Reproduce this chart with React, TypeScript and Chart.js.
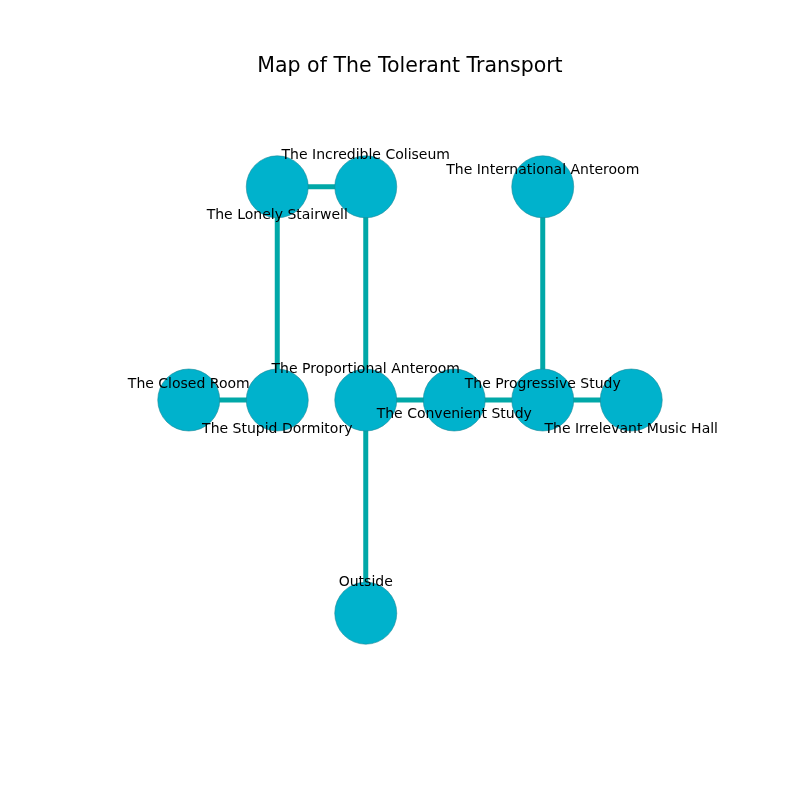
import { useEffect, useRef } from 'react';
import { Chart, registerables } from 'chart.js';

Chart.register(...registerables);

const nodeNames = [
  'The Closed Room', 'The Stupid Dormitory', 'The Proportional Anteroom', 'The Convenient Study',
  'The Progressive Study', 'The Irrelevant Music Hall', 'The Lonely Stairwell', 'The Incredible Coliseum',
  'The International Anteroom', 'Outside',
];
const nodeX = [0, 1, 2, 3, 4, 5, 1, 2, 4, 2];
const nodeY = [1, 1, 1, 1, 1, 1, 2, 2, 2, 0];
// label offset in data units (label placement jitter)
const labelDX = [0, 0, 0, 0, 0, 0, 0, 0, 0, 0];
const labelDY = [0.075, -0.136, 0.146, -0.066, 0.075, -0.136, -0.136, 0.146, 0.075, 0.146];
const edges: [number, number][] = [
  [6, 7], [6, 1], [7, 2], [0, 1], [2, 3], [3, 4], [4, 5], [4, 8], [2, 9],
];

const labelPlugin = {
  id: 'nodeLabels',
  afterDatasetsDraw(chart: Chart) {
    const { ctx, scales } = chart;
    ctx.save();
    ctx.fillStyle = '#000';
    ctx.textAlign = 'center';
    ctx.textBaseline = 'middle';
    ctx.font = '14px "DejaVu Sans"';
    nodeNames.forEach((n, i) => {
      ctx.fillText(n, scales.x.getPixelForValue(nodeX[i] + labelDX[i]), scales.y.getPixelForValue(nodeY[i] + labelDY[i]));
    });
    ctx.font = '20.5px "DejaVu Sans"';
    ctx.fillText('Map of The Tolerant Transport', 410, 67);
    ctx.restore();
  },
};

const App = () => {
  const ref = useRef<HTMLCanvasElement>(null);
  useEffect(() => {
    if (!ref.current) return;
    const edgeSets = edges.map(([a, b]) => ({
      type: 'scatter' as const,
      data: [{ x: nodeX[a], y: nodeY[a] }, { x: nodeX[b], y: nodeY[b] }],
      showLine: true,
      borderColor: '#00a8a8',
      borderWidth: 5,
      pointRadius: 0,
      order: 2,
    }));
    const chart = new Chart(ref.current, {
      type: 'scatter',
      data: {
        datasets: [
          ...edgeSets,
          {
            data: nodeX.map((x, i) => ({ x, y: nodeY[i] })),
            backgroundColor: '#00b2cc',
            borderColor: '#1a8a99',
            borderWidth: 0.6,
            pointRadius: 31,
            pointHoverRadius: 31,
            order: 1,
          },
        ],
      },
      options: {
        animation: false,
        responsive: false,
        layout: { padding: 0 },
        plugins: { legend: { display: false }, tooltip: { enabled: false } },
        scales: {
          x: { display: false, min: -1.776, max: 6.55 },
          y: { display: false, min: -0.728, max: 2.728 },
        },
      },
      plugins: [labelPlugin],
    });
    return () => chart.destroy();
  }, []);
  return <canvas ref={ref} width={800} height={800} style={{ display: 'block', margin: -8 }} />;
};

export default App;
